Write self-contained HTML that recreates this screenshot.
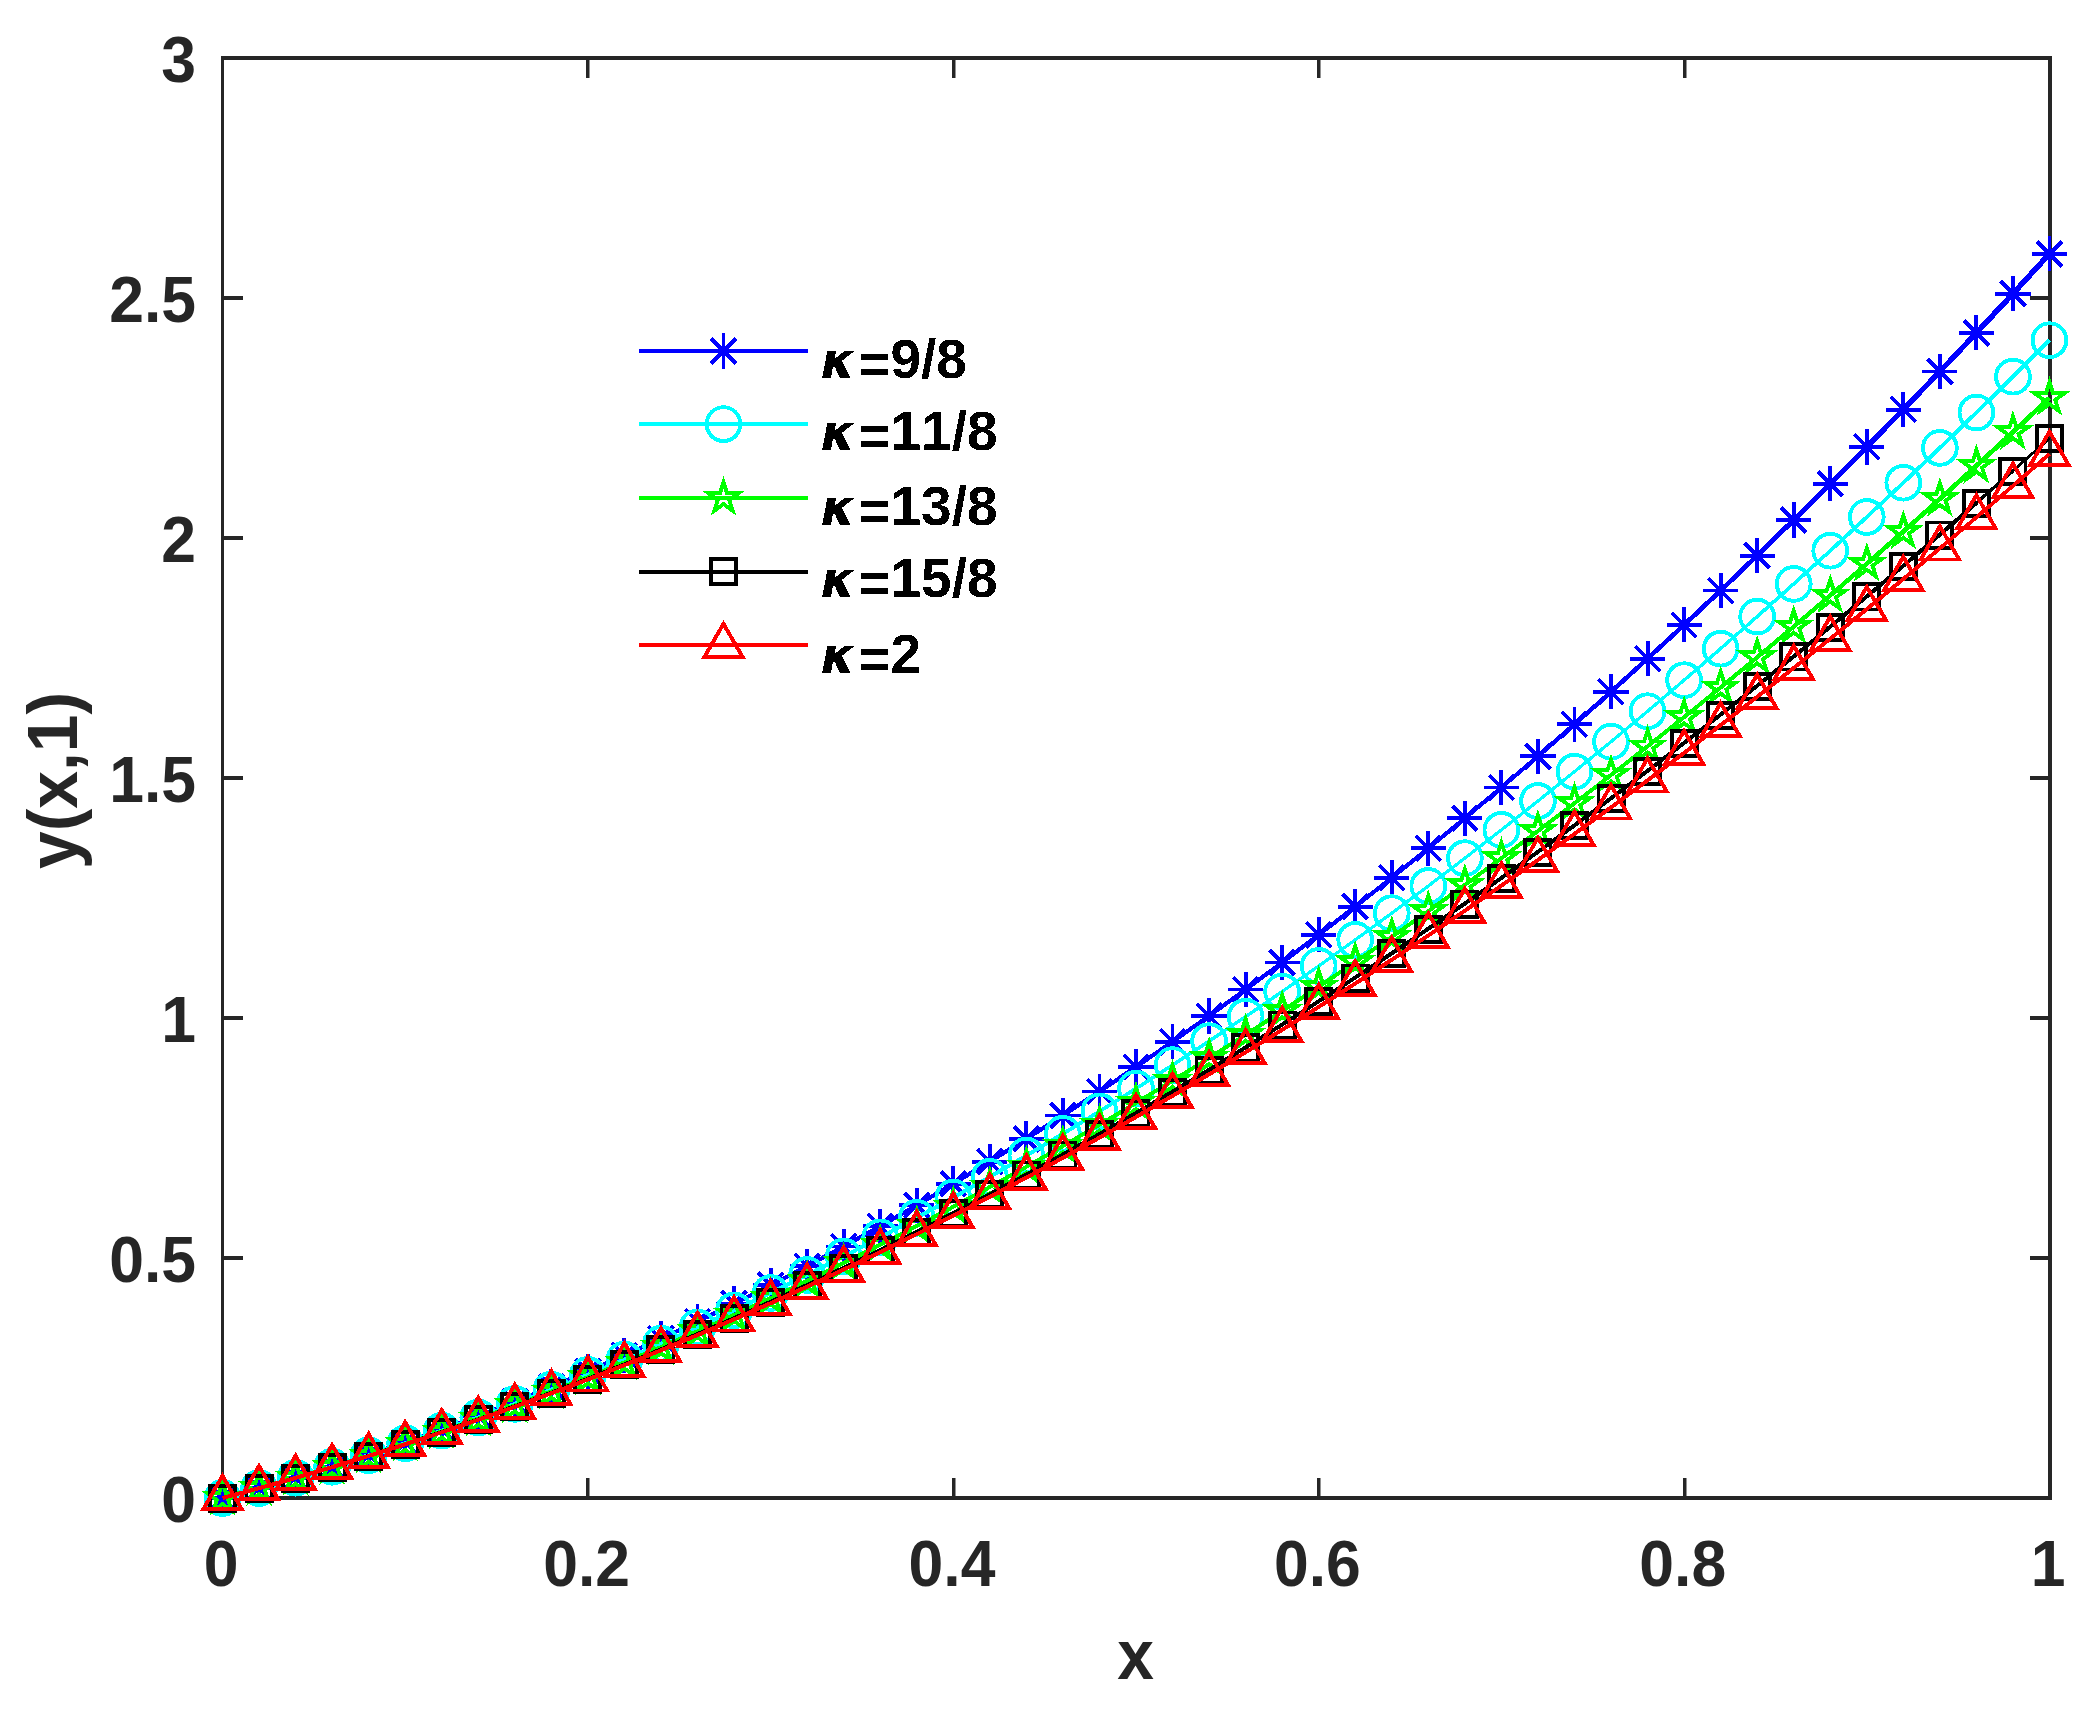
<!DOCTYPE html>
<html lang="en"><head><meta charset="utf-8"><title>y(x,1) for different kappa</title>
<style>html,body{margin:0;padding:0;background:#fff}body{width:2095px;height:1717px;overflow:hidden}svg{display:block}text{font-kerning:none;font-family:"Liberation Sans",sans-serif;font-weight:bold}.tk{font-size:62.5px;fill:#262626}.lb{font-size:68.75px;fill:#262626}.lg{font-size:55.0px;fill:#000}.kp{font-family:"DejaVu Sans","Liberation Sans",sans-serif;font-style:italic;font-size:50px}</style></head><body>
<svg width="2095" height="1717" viewBox="0 0 2095 1717">
<rect width="2095" height="1717" fill="#fff"/>
<g fill="#262626">
<rect x="221" y="56" width="3" height="1444"/><rect x="2048" y="56" width="4" height="1444"/>
<rect x="221" y="56" width="1831" height="4"/><rect x="221" y="1496" width="1831" height="4"/>
<path d="M586 1478h3.5v18h-3.5zM586 60h3.5v18h-3.5zM952 1478h3.5v18h-3.5zM952 60h3.5v18h-3.5zM1317 1478h3.5v18h-3.5zM1317 60h3.5v18h-3.5zM1683 1478h3.5v18h-3.5zM1683 60h3.5v18h-3.5zM224 1256h19v4h-19zM2030 1256h18v4h-18zM224 1016h19v4h-19zM2030 1016h18v4h-18zM224 776h19v4h-19zM2030 776h18v4h-18zM224 536h19v4h-19zM2030 536h18v4h-18zM224 296h19v4h-19zM2030 296h18v4h-18z"/>
</g>
<g class="tk" text-anchor="middle">
<text transform="translate(221.2 1585.7) scale(1 1.045)">0</text>
<text transform="translate(586.6 1585.7) scale(1 1.045)">0.2</text>
<text transform="translate(952 1585.7) scale(1 1.045)">0.4</text>
<text transform="translate(1317.4 1585.7) scale(1 1.045)">0.6</text>
<text transform="translate(1682.8 1585.7) scale(1 1.045)">0.8</text>
<text transform="translate(2048.2 1585.7) scale(1 1.045)">1</text>
</g>
<g class="tk" text-anchor="end">
<text transform="translate(196 1521.5) scale(1 1.045)">0</text>
<text transform="translate(196 1281.5) scale(1 1.045)">0.5</text>
<text transform="translate(196 1041.5) scale(1 1.045)">1</text>
<text transform="translate(196 801.5) scale(1 1.045)">1.5</text>
<text transform="translate(196 561.5) scale(1 1.045)">2</text>
<text transform="translate(196 321.5) scale(1 1.045)">2.5</text>
<text transform="translate(196 81.5) scale(1 1.045)">3</text>
</g>
<text class="lb" text-anchor="middle" transform="translate(1135.5 1678.8) scale(0.96 1.022)">x</text>
<text class="lb" text-anchor="middle" transform="translate(77 780.5) rotate(-90) scale(0.985 1.03)">y(x,1)</text>
<g fill="none" shape-rendering="crispEdges" stroke-linejoin="miter" stroke-miterlimit="10">
<g stroke="#0000ff">
<polyline stroke-width="4.2" stroke-linejoin="round" points="222.5,1498 259.04,1488.09 295.58,1477.58 332.12,1466.45 368.66,1454.71 405.2,1442.36 441.74,1429.4 478.28,1415.82 514.82,1401.64 551.36,1386.84 587.9,1371.43 624.44,1355.41 660.98,1338.78 697.52,1321.54 734.06,1303.68 770.6,1285.22 807.14,1266.14 843.68,1246.46 880.22,1226.16 916.76,1205.25 953.3,1183.72 989.84,1161.59 1026.38,1138.85 1062.92,1115.49 1099.46,1091.52 1136,1066.94 1172.54,1041.75 1209.08,1015.95 1245.62,989.54 1282.16,962.51 1318.7,934.88 1355.24,906.63 1391.78,877.77 1428.32,848.3 1464.86,818.22 1501.4,787.53 1537.94,756.22"/>
<polyline stroke-width="4.4" stroke-linejoin="round" points="1537.94,756.22 1574.48,724.31 1611.02,691.78"/>
<polyline stroke-width="4.6" stroke-linejoin="round" points="1611.02,691.78 1647.56,658.64 1684.1,624.89"/>
<polyline stroke-width="4.8" stroke-linejoin="round" points="1684.1,624.89 1720.64,590.53 1757.18,555.56"/>
<polyline stroke-width="5" stroke-linejoin="round" points="1757.18,555.56 1793.72,519.98 1830.26,483.78"/>
<polyline stroke-width="5.2" stroke-linejoin="round" points="1830.26,483.78 1866.8,446.97 1903.34,409.56"/>
<polyline stroke-width="5.4" stroke-linejoin="round" points="1903.34,409.56 1939.88,371.53 1976.42,332.89"/>
<polyline stroke-width="5.6" stroke-linejoin="round" points="1976.42,332.89 2012.96,293.63 2049.5,253.77"/>
<g stroke-width="3.9">
<path d="M222.5 1480.4V1515.6M204.9 1498H240.1M210.05 1485.55L234.95 1510.45M210.05 1510.45L234.95 1485.55"/>
<path d="M259.04 1470.49V1505.69M241.44 1488.09H276.64M246.59 1475.65L271.49 1500.54M246.59 1500.54L271.49 1475.65"/>
<path d="M295.58 1459.98V1495.18M277.98 1477.58H313.18M283.13 1465.13L308.03 1490.02M283.13 1490.02L308.03 1465.13"/>
<path d="M332.12 1448.85V1484.05M314.52 1466.45H349.72M319.67 1454L344.57 1478.89M319.67 1478.89L344.57 1454"/>
<path d="M368.66 1437.11V1472.31M351.06 1454.71H386.26M356.21 1442.26L381.11 1467.15M356.21 1467.15L381.11 1442.26"/>
<path d="M405.2 1424.76V1459.96M387.6 1442.36H422.8M392.75 1429.91L417.65 1454.8M392.75 1454.8L417.65 1429.91"/>
<path d="M441.74 1411.8V1447M424.14 1429.4H459.34M429.29 1416.95L454.19 1441.84M429.29 1441.84L454.19 1416.95"/>
<path d="M478.28 1398.22V1433.42M460.68 1415.82H495.88M465.83 1403.38L490.73 1428.27M465.83 1428.27L490.73 1403.38"/>
<path d="M514.82 1384.04V1419.24M497.22 1401.64H532.42M502.37 1389.19L527.27 1414.08M502.37 1414.08L527.27 1389.19"/>
<path d="M551.36 1369.24V1404.44M533.76 1386.84H568.96M538.91 1374.39L563.81 1399.28M538.91 1399.28L563.81 1374.39"/>
<path d="M587.9 1353.83V1389.03M570.3 1371.43H605.5M575.45 1358.99L600.35 1383.88M575.45 1383.88L600.35 1358.99"/>
<path d="M624.44 1337.81V1373.01M606.84 1355.41H642.04M611.99 1342.97L636.89 1367.86M611.99 1367.86L636.89 1342.97"/>
<path d="M660.98 1321.18V1356.38M643.38 1338.78H678.58M648.53 1326.34L673.43 1351.23M648.53 1351.23L673.43 1326.34"/>
<path d="M697.52 1303.94V1339.14M679.92 1321.54H715.12M685.07 1309.09L709.97 1333.98M685.07 1333.98L709.97 1309.09"/>
<path d="M734.06 1286.08V1321.28M716.46 1303.68H751.66M721.61 1291.24L746.51 1316.13M721.61 1316.13L746.51 1291.24"/>
<path d="M770.6 1267.62V1302.82M753 1285.22H788.2M758.15 1272.77L783.05 1297.66M758.15 1297.66L783.05 1272.77"/>
<path d="M807.14 1248.54V1283.74M789.54 1266.14H824.74M794.69 1253.7L819.59 1278.59M794.69 1278.59L819.59 1253.7"/>
<path d="M843.68 1228.86V1264.06M826.08 1246.46H861.28M831.23 1234.01L856.13 1258.9M831.23 1258.9L856.13 1234.01"/>
<path d="M880.22 1208.56V1243.76M862.62 1226.16H897.82M867.77 1213.71L892.67 1238.6M867.77 1238.6L892.67 1213.71"/>
<path d="M916.76 1187.65V1222.85M899.16 1205.25H934.36M904.31 1192.8L929.21 1217.69M904.31 1217.69L929.21 1192.8"/>
<path d="M953.3 1166.12V1201.32M935.7 1183.72H970.9M940.85 1171.28L965.75 1196.17M940.85 1196.17L965.75 1171.28"/>
<path d="M989.84 1143.99V1179.19M972.24 1161.59H1007.44M977.39 1149.14L1002.29 1174.04M977.39 1174.04L1002.29 1149.14"/>
<path d="M1026.38 1121.25V1156.45M1008.78 1138.85H1043.98M1013.93 1126.4L1038.83 1151.29M1013.93 1151.29L1038.83 1126.4"/>
<path d="M1062.92 1097.89V1133.09M1045.32 1115.49H1080.52M1050.47 1103.04L1075.37 1127.93M1050.47 1127.93L1075.37 1103.04"/>
<path d="M1099.46 1073.92V1109.12M1081.86 1091.52H1117.06M1087.01 1079.08L1111.91 1103.97M1087.01 1103.97L1111.91 1079.08"/>
<path d="M1136 1049.34V1084.54M1118.4 1066.94H1153.6M1123.55 1054.5L1148.45 1079.39M1123.55 1079.39L1148.45 1054.5"/>
<path d="M1172.54 1024.15V1059.35M1154.94 1041.75H1190.14M1160.09 1029.31L1184.99 1054.2M1160.09 1054.2L1184.99 1029.31"/>
<path d="M1209.08 998.35V1033.55M1191.48 1015.95H1226.68M1196.63 1003.51L1221.53 1028.4M1196.63 1028.4L1221.53 1003.51"/>
<path d="M1245.62 971.94V1007.14M1228.02 989.54H1263.22M1233.17 977.09L1258.07 1001.98M1233.17 1001.98L1258.07 977.09"/>
<path d="M1282.16 944.91V980.11M1264.56 962.51H1299.76M1269.71 950.07L1294.61 974.96M1269.71 974.96L1294.61 950.07"/>
<path d="M1318.7 917.28V952.48M1301.1 934.88H1336.3M1306.25 922.43L1331.15 947.32M1306.25 947.32L1331.15 922.43"/>
<path d="M1355.24 889.03V924.23M1337.64 906.63H1372.84M1342.79 894.19L1367.69 919.08M1342.79 919.08L1367.69 894.19"/>
<path d="M1391.78 860.17V895.37M1374.18 877.77H1409.38M1379.33 865.33L1404.23 890.22M1379.33 890.22L1404.23 865.33"/>
<path d="M1428.32 830.7V865.9M1410.72 848.3H1445.92M1415.87 835.86L1440.77 860.75M1415.87 860.75L1440.77 835.86"/>
<path d="M1464.86 800.62V835.82M1447.26 818.22H1482.46M1452.41 805.78L1477.31 830.67M1452.41 830.67L1477.31 805.78"/>
<path d="M1501.4 769.93V805.13M1483.8 787.53H1519M1488.95 775.08L1513.85 799.97M1488.95 799.97L1513.85 775.08"/>
<path d="M1537.94 738.62V773.82M1520.34 756.22H1555.54M1525.49 743.78L1550.39 768.67M1525.49 768.67L1550.39 743.78"/>
<path d="M1574.48 706.71V741.91M1556.88 724.31H1592.08M1562.03 711.86L1586.93 736.75M1562.03 736.75L1586.93 711.86"/>
<path d="M1611.02 674.18V709.38M1593.42 691.78H1628.62M1598.57 679.34L1623.47 704.23M1598.57 704.23L1623.47 679.34"/>
<path d="M1647.56 641.04V676.24M1629.96 658.64H1665.16M1635.11 646.2L1660.01 671.09M1635.11 671.09L1660.01 646.2"/>
<path d="M1684.1 607.29V642.49M1666.5 624.89H1701.7M1671.65 612.45L1696.55 637.34M1671.65 637.34L1696.55 612.45"/>
<path d="M1720.64 572.93V608.13M1703.04 590.53H1738.24M1708.19 578.09L1733.09 602.98M1708.19 602.98L1733.09 578.09"/>
<path d="M1757.18 537.96V573.16M1739.58 555.56H1774.78M1744.73 543.11L1769.63 568M1744.73 568L1769.63 543.11"/>
<path d="M1793.72 502.38V537.58M1776.12 519.98H1811.32M1781.27 507.53L1806.17 532.42M1781.27 532.42L1806.17 507.53"/>
<path d="M1830.26 466.18V501.38M1812.66 483.78H1847.86M1817.81 471.34L1842.71 496.23M1817.81 496.23L1842.71 471.34"/>
<path d="M1866.8 429.37V464.57M1849.2 446.97H1884.4M1854.35 434.53L1879.25 459.42M1854.35 459.42L1879.25 434.53"/>
<path d="M1903.34 391.96V427.16M1885.74 409.56H1920.94M1890.89 397.11L1915.79 422M1890.89 422L1915.79 397.11"/>
<path d="M1939.88 353.93V389.13M1922.28 371.53H1957.48M1927.43 359.08L1952.33 383.97M1927.43 383.97L1952.33 359.08"/>
<path d="M1976.42 315.29V350.49M1958.82 332.89H1994.02M1963.97 320.44L1988.87 345.33M1963.97 345.33L1988.87 320.44"/>
<path d="M2012.96 276.03V311.23M1995.36 293.63H2030.56M2000.51 281.19L2025.41 306.08M2000.51 306.08L2025.41 281.19"/>
<path d="M2049.5 236.17V271.37M2031.9 253.77H2067.1M2037.05 241.33L2061.95 266.22M2037.05 266.22L2061.95 241.33"/>
</g></g>
<g stroke="#00ffff">
<polyline stroke-width="4" stroke-linejoin="round" points="222.5,1498 259.04,1488.13 295.58,1477.72 332.12,1466.76 368.66,1455.26 405.2,1443.22 441.74,1430.64 478.28,1417.52 514.82,1403.85 551.36,1389.64 587.9,1374.89 624.44,1359.59 660.98,1343.76 697.52,1327.38 734.06,1310.46 770.6,1293 807.14,1274.99 843.68,1256.45 880.22,1237.36 916.76,1217.73 953.3,1197.55 989.84,1176.84 1026.38,1155.58 1062.92,1133.78"/>
<polyline stroke-width="3.8" stroke-linejoin="round" points="1062.92,1133.78 1099.46,1111.44 1136,1088.55"/>
<polyline stroke-width="3.6" stroke-linejoin="round" points="1136,1088.55 1172.54,1065.12 1209.08,1041.16"/>
<polyline stroke-width="3.4" stroke-linejoin="round" points="1209.08,1041.16 1245.62,1016.64 1282.16,991.59"/>
<polyline stroke-width="3.2" stroke-linejoin="round" points="1282.16,991.59 1318.7,965.99 1355.24,939.86 1391.78,913.18 1428.32,885.95 1464.86,858.19 1501.4,829.88 1537.94,801.03 1574.48,771.64 1611.02,741.71 1647.56,711.23 1684.1,680.21"/>
<polyline stroke-width="3.4" stroke-linejoin="round" points="1684.1,680.21 1720.64,648.65 1757.18,616.55"/>
<polyline stroke-width="3.6" stroke-linejoin="round" points="1757.18,616.55 1793.72,583.9 1830.26,550.72"/>
<polyline stroke-width="3.8" stroke-linejoin="round" points="1830.26,550.72 1866.8,516.99 1903.34,482.72"/>
<polyline stroke-width="4" stroke-linejoin="round" points="1903.34,482.72 1939.88,447.9 1976.42,412.55 2012.96,376.65 2049.5,340.21"/>
<g stroke-width="3.9">
<circle cx="222.5" cy="1498" r="16.9"/>
<circle cx="259.04" cy="1488.13" r="16.9"/>
<circle cx="295.58" cy="1477.72" r="16.9"/>
<circle cx="332.12" cy="1466.76" r="16.9"/>
<circle cx="368.66" cy="1455.26" r="16.9"/>
<circle cx="405.2" cy="1443.22" r="16.9"/>
<circle cx="441.74" cy="1430.64" r="16.9"/>
<circle cx="478.28" cy="1417.52" r="16.9"/>
<circle cx="514.82" cy="1403.85" r="16.9"/>
<circle cx="551.36" cy="1389.64" r="16.9"/>
<circle cx="587.9" cy="1374.89" r="16.9"/>
<circle cx="624.44" cy="1359.59" r="16.9"/>
<circle cx="660.98" cy="1343.76" r="16.9"/>
<circle cx="697.52" cy="1327.38" r="16.9"/>
<circle cx="734.06" cy="1310.46" r="16.9"/>
<circle cx="770.6" cy="1293" r="16.9"/>
<circle cx="807.14" cy="1274.99" r="16.9"/>
<circle cx="843.68" cy="1256.45" r="16.9"/>
<circle cx="880.22" cy="1237.36" r="16.9"/>
<circle cx="916.76" cy="1217.73" r="16.9"/>
<circle cx="953.3" cy="1197.55" r="16.9"/>
<circle cx="989.84" cy="1176.84" r="16.9"/>
<circle cx="1026.38" cy="1155.58" r="16.9"/>
<circle cx="1062.92" cy="1133.78" r="16.9"/>
<circle cx="1099.46" cy="1111.44" r="16.9"/>
<circle cx="1136" cy="1088.55" r="16.9"/>
<circle cx="1172.54" cy="1065.12" r="16.9"/>
<circle cx="1209.08" cy="1041.16" r="16.9"/>
<circle cx="1245.62" cy="1016.64" r="16.9"/>
<circle cx="1282.16" cy="991.59" r="16.9"/>
<circle cx="1318.7" cy="965.99" r="16.9"/>
<circle cx="1355.24" cy="939.86" r="16.9"/>
<circle cx="1391.78" cy="913.18" r="16.9"/>
<circle cx="1428.32" cy="885.95" r="16.9"/>
<circle cx="1464.86" cy="858.19" r="16.9"/>
<circle cx="1501.4" cy="829.88" r="16.9"/>
<circle cx="1537.94" cy="801.03" r="16.9"/>
<circle cx="1574.48" cy="771.64" r="16.9"/>
<circle cx="1611.02" cy="741.71" r="16.9"/>
<circle cx="1647.56" cy="711.23" r="16.9"/>
<circle cx="1684.1" cy="680.21" r="16.9"/>
<circle cx="1720.64" cy="648.65" r="16.9"/>
<circle cx="1757.18" cy="616.55" r="16.9"/>
<circle cx="1793.72" cy="583.9" r="16.9"/>
<circle cx="1830.26" cy="550.72" r="16.9"/>
<circle cx="1866.8" cy="516.99" r="16.9"/>
<circle cx="1903.34" cy="482.72" r="16.9"/>
<circle cx="1939.88" cy="447.9" r="16.9"/>
<circle cx="1976.42" cy="412.55" r="16.9"/>
<circle cx="2012.96" cy="376.65" r="16.9"/>
<circle cx="2049.5" cy="340.21" r="16.9"/>
</g></g>
<g stroke="#00ff00">
<polyline stroke-width="4" stroke-linejoin="round" points="222.5,1498 259.04,1488.15 295.58,1477.81 332.12,1466.97 368.66,1455.63 405.2,1443.8 441.74,1431.47 478.28,1418.65 514.82,1405.33 551.36,1391.51 587.9,1377.2 624.44,1362.39 660.98,1347.09 697.52,1331.29 734.06,1314.99 770.6,1298.2 807.14,1280.91 843.68,1263.13 880.22,1244.85 916.76,1226.07 953.3,1206.8 989.84,1187.03 1026.38,1166.76 1062.92,1146 1099.46,1124.75 1136,1103 1172.54,1080.75 1209.08,1058 1245.62,1034.76 1282.16,1011.03 1318.7,986.79 1355.24,962.07 1391.78,936.84 1428.32,911.12 1464.86,884.9 1501.4,858.19 1537.94,830.98 1574.48,803.28 1611.02,775.08 1647.56,746.38 1684.1,717.19 1720.64,687.5"/>
<polyline stroke-width="4.2" stroke-linejoin="round" points="1720.64,687.5 1757.18,657.32 1793.72,626.64"/>
<polyline stroke-width="4.4" stroke-linejoin="round" points="1793.72,626.64 1830.26,595.46 1866.8,563.79"/>
<polyline stroke-width="4.6" stroke-linejoin="round" points="1866.8,563.79 1903.34,531.62 1939.88,498.95"/>
<polyline stroke-width="4.8" stroke-linejoin="round" points="1939.88,498.95 1976.42,465.79 2012.96,432.14 2049.5,397.98"/>
<g stroke-width="3.9">
<polygon points="222.5,1482.2 226.05,1493.12 237.53,1493.12 228.24,1499.87 231.79,1510.78 222.5,1504.04 213.21,1510.78 216.76,1499.87 207.47,1493.12 218.95,1493.12"/>
<polygon points="259.04,1472.35 262.59,1483.27 274.07,1483.27 264.78,1490.02 268.33,1500.93 259.04,1494.19 249.75,1500.93 253.3,1490.02 244.01,1483.27 255.49,1483.27"/>
<polygon points="295.58,1462.01 299.13,1472.93 310.61,1472.93 301.32,1479.67 304.87,1490.59 295.58,1483.84 286.29,1490.59 289.84,1479.67 280.55,1472.93 292.03,1472.93"/>
<polygon points="332.12,1451.17 335.67,1462.09 347.15,1462.09 337.86,1468.83 341.41,1479.75 332.12,1473 322.83,1479.75 326.38,1468.83 317.09,1462.09 328.57,1462.09"/>
<polygon points="368.66,1439.83 372.21,1450.75 383.69,1450.75 374.4,1457.5 377.95,1468.41 368.66,1461.67 359.37,1468.41 362.92,1457.5 353.63,1450.75 365.11,1450.75"/>
<polygon points="405.2,1428 408.75,1438.92 420.23,1438.92 410.94,1445.66 414.49,1456.58 405.2,1449.84 395.91,1456.58 399.46,1445.66 390.17,1438.92 401.65,1438.92"/>
<polygon points="441.74,1415.67 445.29,1426.59 456.77,1426.59 447.48,1433.34 451.03,1444.25 441.74,1437.51 432.45,1444.25 436,1433.34 426.71,1426.59 438.19,1426.59"/>
<polygon points="478.28,1402.85 481.83,1413.76 493.31,1413.77 484.02,1420.51 487.57,1431.43 478.28,1424.68 468.99,1431.43 472.54,1420.51 463.25,1413.77 474.73,1413.76"/>
<polygon points="514.82,1389.53 518.37,1400.44 529.85,1400.45 520.56,1407.19 524.11,1418.11 514.82,1411.36 505.53,1418.11 509.08,1407.19 499.79,1400.45 511.27,1400.44"/>
<polygon points="551.36,1375.71 554.91,1386.63 566.39,1386.63 557.1,1393.38 560.65,1404.29 551.36,1397.55 542.07,1404.29 545.62,1393.38 536.33,1386.63 547.81,1386.63"/>
<polygon points="587.9,1361.4 591.45,1372.32 602.93,1372.32 593.64,1379.06 597.19,1389.98 587.9,1383.23 578.61,1389.98 582.16,1379.06 572.87,1372.32 584.35,1372.32"/>
<polygon points="624.44,1346.59 627.99,1357.51 639.47,1357.51 630.18,1364.26 633.73,1375.17 624.44,1368.43 615.15,1375.17 618.7,1364.26 609.41,1357.51 620.89,1357.51"/>
<polygon points="660.98,1331.29 664.53,1342.2 676.01,1342.2 666.72,1348.95 670.27,1359.87 660.98,1353.12 651.69,1359.87 655.24,1348.95 645.95,1342.2 657.43,1342.2"/>
<polygon points="697.52,1315.49 701.07,1326.4 712.55,1326.4 703.26,1333.15 706.81,1344.07 697.52,1337.32 688.23,1344.07 691.78,1333.15 682.49,1326.4 693.97,1326.4"/>
<polygon points="734.06,1299.19 737.61,1310.11 749.09,1310.11 739.8,1316.86 743.35,1327.77 734.06,1321.03 724.77,1327.77 728.32,1316.86 719.03,1310.11 730.51,1310.11"/>
<polygon points="770.6,1282.4 774.15,1293.32 785.63,1293.32 776.34,1300.06 779.89,1310.98 770.6,1304.23 761.31,1310.98 764.86,1300.06 755.57,1293.32 767.05,1293.32"/>
<polygon points="807.14,1265.11 810.69,1276.03 822.17,1276.03 812.88,1282.78 816.43,1293.69 807.14,1286.95 797.85,1293.69 801.4,1282.78 792.11,1276.03 803.59,1276.03"/>
<polygon points="843.68,1247.33 847.23,1258.24 858.71,1258.24 849.42,1264.99 852.97,1275.91 843.68,1269.16 834.39,1275.91 837.94,1264.99 828.65,1258.24 840.13,1258.24"/>
<polygon points="880.22,1229.05 883.77,1239.96 895.25,1239.96 885.96,1246.71 889.51,1257.63 880.22,1250.88 870.93,1257.63 874.48,1246.71 865.19,1239.96 876.67,1239.96"/>
<polygon points="916.76,1210.27 920.31,1221.19 931.79,1221.19 922.5,1227.93 926.05,1238.85 916.76,1232.11 907.47,1238.85 911.02,1227.93 901.73,1221.19 913.21,1221.19"/>
<polygon points="953.3,1191 956.85,1201.91 968.33,1201.91 959.04,1208.66 962.59,1219.58 953.3,1212.83 944.01,1219.58 947.56,1208.66 938.27,1201.91 949.75,1201.91"/>
<polygon points="989.84,1171.23 993.39,1182.15 1004.87,1182.15 995.58,1188.89 999.13,1199.81 989.84,1193.06 980.55,1199.81 984.1,1188.89 974.81,1182.15 986.29,1182.15"/>
<polygon points="1026.38,1150.96 1029.93,1161.88 1041.41,1161.88 1032.12,1168.63 1035.67,1179.55 1026.38,1172.8 1017.09,1179.55 1020.64,1168.63 1011.35,1161.88 1022.83,1161.88"/>
<polygon points="1062.92,1130.2 1066.47,1141.12 1077.95,1141.12 1068.66,1147.87 1072.21,1158.79 1062.92,1152.04 1053.63,1158.79 1057.18,1147.87 1047.89,1141.12 1059.37,1141.12"/>
<polygon points="1099.46,1108.95 1103.01,1119.87 1114.49,1119.87 1105.2,1126.61 1108.75,1137.53 1099.46,1130.78 1090.17,1137.53 1093.72,1126.61 1084.43,1119.87 1095.91,1119.87"/>
<polygon points="1136,1087.2 1139.55,1098.11 1151.03,1098.11 1141.74,1104.86 1145.29,1115.78 1136,1109.03 1126.71,1115.78 1130.26,1104.86 1120.97,1098.11 1132.45,1098.11"/>
<polygon points="1172.54,1064.95 1176.09,1075.86 1187.57,1075.86 1178.28,1082.61 1181.83,1093.53 1172.54,1086.78 1163.25,1093.53 1166.8,1082.61 1157.51,1075.86 1168.99,1075.86"/>
<polygon points="1209.08,1042.2 1212.63,1053.12 1224.11,1053.12 1214.82,1059.87 1218.37,1070.79 1209.08,1064.04 1199.79,1070.79 1203.34,1059.87 1194.05,1053.12 1205.53,1053.12"/>
<polygon points="1245.62,1018.96 1249.17,1029.88 1260.65,1029.88 1251.36,1036.63 1254.91,1047.55 1245.62,1040.8 1236.33,1047.55 1239.88,1036.63 1230.59,1029.88 1242.07,1029.88"/>
<polygon points="1282.16,995.23 1285.71,1006.14 1297.19,1006.14 1287.9,1012.89 1291.45,1023.81 1282.16,1017.06 1272.87,1023.81 1276.42,1012.89 1267.13,1006.14 1278.61,1006.14"/>
<polygon points="1318.7,970.99 1322.25,981.91 1333.73,981.91 1324.44,988.66 1327.99,999.58 1318.7,992.83 1309.41,999.58 1312.96,988.66 1303.67,981.91 1315.15,981.91"/>
<polygon points="1355.24,946.27 1358.79,957.18 1370.27,957.18 1360.98,963.93 1364.53,974.85 1355.24,968.1 1345.95,974.85 1349.5,963.93 1340.21,957.18 1351.69,957.18"/>
<polygon points="1391.78,921.04 1395.33,931.96 1406.81,931.96 1397.52,938.71 1401.07,949.62 1391.78,942.88 1382.49,949.62 1386.04,938.71 1376.75,931.96 1388.23,931.96"/>
<polygon points="1428.32,895.32 1431.87,906.24 1443.35,906.24 1434.06,912.99 1437.61,923.9 1428.32,917.16 1419.03,923.9 1422.58,912.99 1413.29,906.24 1424.77,906.24"/>
<polygon points="1464.86,869.1 1468.41,880.02 1479.89,880.02 1470.6,886.77 1474.15,897.69 1464.86,890.94 1455.57,897.69 1459.12,886.77 1449.83,880.02 1461.31,880.02"/>
<polygon points="1501.4,842.39 1504.95,853.31 1516.43,853.31 1507.14,860.06 1510.69,870.97 1501.4,864.23 1492.11,870.97 1495.66,860.06 1486.37,853.31 1497.85,853.31"/>
<polygon points="1537.94,815.18 1541.49,826.1 1552.97,826.1 1543.68,832.85 1547.23,843.77 1537.94,837.02 1528.65,843.77 1532.2,832.85 1522.91,826.1 1534.39,826.1"/>
<polygon points="1574.48,787.48 1578.03,798.4 1589.51,798.4 1580.22,805.14 1583.77,816.06 1574.48,809.31 1565.19,816.06 1568.74,805.14 1559.45,798.4 1570.93,798.4"/>
<polygon points="1611.02,759.28 1614.57,770.2 1626.05,770.2 1616.76,776.94 1620.31,787.86 1611.02,781.11 1601.73,787.86 1605.28,776.94 1595.99,770.2 1607.47,770.2"/>
<polygon points="1647.56,730.58 1651.11,741.5 1662.59,741.5 1653.3,748.25 1656.85,759.16 1647.56,752.42 1638.27,759.16 1641.82,748.25 1632.53,741.5 1644.01,741.5"/>
<polygon points="1684.1,701.39 1687.65,712.31 1699.13,712.31 1689.84,719.05 1693.39,729.97 1684.1,723.22 1674.81,729.97 1678.36,719.05 1669.07,712.31 1680.55,712.31"/>
<polygon points="1720.64,671.7 1724.19,682.62 1735.67,682.62 1726.38,689.37 1729.93,700.28 1720.64,693.54 1711.35,700.28 1714.9,689.37 1705.61,682.62 1717.09,682.62"/>
<polygon points="1757.18,641.52 1760.73,652.43 1772.21,652.43 1762.92,659.18 1766.47,670.1 1757.18,663.35 1747.89,670.1 1751.44,659.18 1742.15,652.43 1753.63,652.43"/>
<polygon points="1793.72,610.84 1797.27,621.75 1808.75,621.75 1799.46,628.5 1803.01,639.42 1793.72,632.67 1784.43,639.42 1787.98,628.5 1778.69,621.75 1790.17,621.75"/>
<polygon points="1830.26,579.66 1833.81,590.58 1845.29,590.58 1836,597.32 1839.55,608.24 1830.26,601.49 1820.97,608.24 1824.52,597.32 1815.23,590.58 1826.71,590.58"/>
<polygon points="1866.8,547.99 1870.35,558.9 1881.83,558.9 1872.54,565.65 1876.09,576.57 1866.8,569.82 1857.51,576.57 1861.06,565.65 1851.77,558.9 1863.25,558.9"/>
<polygon points="1903.34,515.82 1906.89,526.73 1918.37,526.74 1909.08,533.48 1912.63,544.4 1903.34,537.65 1894.05,544.4 1897.6,533.48 1888.31,526.74 1899.79,526.73"/>
<polygon points="1939.88,483.15 1943.43,494.07 1954.91,494.07 1945.62,500.82 1949.17,511.74 1939.88,504.99 1930.59,511.74 1934.14,500.82 1924.85,494.07 1936.33,494.07"/>
<polygon points="1976.42,449.99 1979.97,460.91 1991.45,460.91 1982.16,467.66 1985.71,478.57 1976.42,471.83 1967.13,478.57 1970.68,467.66 1961.39,460.91 1972.87,460.91"/>
<polygon points="2012.96,416.34 2016.51,427.25 2027.99,427.25 2018.7,434 2022.25,444.92 2012.96,438.17 2003.67,444.92 2007.22,434 1997.93,427.25 2009.41,427.25"/>
<polygon points="2049.5,382.18 2053.05,393.1 2064.53,393.1 2055.24,399.85 2058.79,410.77 2049.5,404.02 2040.21,410.77 2043.76,399.85 2034.47,393.1 2045.95,393.1"/>
</g></g>
<g stroke="#000000">
<polyline stroke-width="4" stroke-linejoin="round" points="222.5,1498 259.04,1488.17 295.58,1477.87 332.12,1467.11 368.66,1455.89 405.2,1444.2 441.74,1432.05 478.28,1419.44 514.82,1406.36 551.36,1392.82 587.9,1378.81 624.44,1364.34 660.98,1349.41 697.52,1334.01 734.06,1318.15 770.6,1301.83 807.14,1285.04 843.68,1267.79 880.22,1250.07 916.76,1231.89 953.3,1213.25 989.84,1194.14 1026.38,1174.57 1062.92,1154.54 1099.46,1134.04 1136,1113.08 1172.54,1091.65 1209.08,1069.76 1245.62,1047.41 1282.16,1024.59 1318.7,1001.31 1355.24,977.57 1391.78,953.36 1428.32,928.69 1464.86,903.55 1501.4,877.95 1537.94,851.89 1574.48,825.36 1611.02,798.37 1647.56,770.92 1684.1,743 1720.64,714.62 1757.18,685.77 1793.72,656.46 1830.26,626.69 1866.8,596.45 1903.34,565.75 1939.88,534.59 1976.42,502.96"/>
<polyline stroke-width="3.4" stroke-linejoin="round" points="1976.42,502.96 2012.96,470.87"/>
<polyline stroke-width="2.8" stroke-linejoin="round" points="2012.96,470.87 2049.5,438.31"/>
<g stroke-width="3.9">
<rect x="209.95" y="1485.95" width="25.1" height="25.1"/>
<rect x="246.49" y="1476.12" width="25.1" height="25.1"/>
<rect x="283.03" y="1465.82" width="25.1" height="25.1"/>
<rect x="319.57" y="1455.06" width="25.1" height="25.1"/>
<rect x="356.11" y="1443.84" width="25.1" height="25.1"/>
<rect x="392.65" y="1432.15" width="25.1" height="25.1"/>
<rect x="429.19" y="1420" width="25.1" height="25.1"/>
<rect x="465.73" y="1407.39" width="25.1" height="25.1"/>
<rect x="502.27" y="1394.31" width="25.1" height="25.1"/>
<rect x="538.81" y="1380.77" width="25.1" height="25.1"/>
<rect x="575.35" y="1366.76" width="25.1" height="25.1"/>
<rect x="611.89" y="1352.29" width="25.1" height="25.1"/>
<rect x="648.43" y="1337.36" width="25.1" height="25.1"/>
<rect x="684.97" y="1321.96" width="25.1" height="25.1"/>
<rect x="721.51" y="1306.1" width="25.1" height="25.1"/>
<rect x="758.05" y="1289.78" width="25.1" height="25.1"/>
<rect x="794.59" y="1272.99" width="25.1" height="25.1"/>
<rect x="831.13" y="1255.74" width="25.1" height="25.1"/>
<rect x="867.67" y="1238.02" width="25.1" height="25.1"/>
<rect x="904.21" y="1219.84" width="25.1" height="25.1"/>
<rect x="940.75" y="1201.2" width="25.1" height="25.1"/>
<rect x="977.29" y="1182.09" width="25.1" height="25.1"/>
<rect x="1013.83" y="1162.52" width="25.1" height="25.1"/>
<rect x="1050.37" y="1142.49" width="25.1" height="25.1"/>
<rect x="1086.91" y="1121.99" width="25.1" height="25.1"/>
<rect x="1123.45" y="1101.03" width="25.1" height="25.1"/>
<rect x="1159.99" y="1079.6" width="25.1" height="25.1"/>
<rect x="1196.53" y="1057.71" width="25.1" height="25.1"/>
<rect x="1233.07" y="1035.36" width="25.1" height="25.1"/>
<rect x="1269.61" y="1012.54" width="25.1" height="25.1"/>
<rect x="1306.15" y="989.26" width="25.1" height="25.1"/>
<rect x="1342.69" y="965.52" width="25.1" height="25.1"/>
<rect x="1379.23" y="941.31" width="25.1" height="25.1"/>
<rect x="1415.77" y="916.64" width="25.1" height="25.1"/>
<rect x="1452.31" y="891.5" width="25.1" height="25.1"/>
<rect x="1488.85" y="865.9" width="25.1" height="25.1"/>
<rect x="1525.39" y="839.84" width="25.1" height="25.1"/>
<rect x="1561.93" y="813.31" width="25.1" height="25.1"/>
<rect x="1598.47" y="786.32" width="25.1" height="25.1"/>
<rect x="1635.01" y="758.87" width="25.1" height="25.1"/>
<rect x="1671.55" y="730.95" width="25.1" height="25.1"/>
<rect x="1708.09" y="702.57" width="25.1" height="25.1"/>
<rect x="1744.63" y="673.72" width="25.1" height="25.1"/>
<rect x="1781.17" y="644.41" width="25.1" height="25.1"/>
<rect x="1817.71" y="614.64" width="25.1" height="25.1"/>
<rect x="1854.25" y="584.4" width="25.1" height="25.1"/>
<rect x="1890.79" y="553.7" width="25.1" height="25.1"/>
<rect x="1927.33" y="522.54" width="25.1" height="25.1"/>
<rect x="1963.87" y="490.91" width="25.1" height="25.1"/>
<rect x="2000.41" y="458.82" width="25.1" height="25.1"/>
<rect x="2036.95" y="426.26" width="25.1" height="25.1"/>
</g></g>
<g stroke="#ff0000">
<polyline stroke-width="4" stroke-linejoin="round" points="222.5,1498 259.04,1488.17 295.58,1477.9 332.12,1467.17 368.66,1455.99 405.2,1444.36 441.74,1432.28 478.28,1419.74 514.82,1406.76 551.36,1393.32 587.9,1379.44 624.44,1365.1 660.98,1350.31 697.52,1335.07 734.06,1319.37 770.6,1303.23 807.14,1286.64 843.68,1269.59 880.22,1252.09 916.76,1234.14 953.3,1215.74 989.84,1196.89 1026.38,1177.59 1062.92,1157.84 1099.46,1137.63 1136,1116.98 1172.54,1095.87 1209.08,1074.31 1245.62,1052.3 1282.16,1029.84 1318.7,1006.93 1355.24,983.56 1391.78,959.75 1428.32,935.48 1464.86,910.76 1501.4,885.59 1537.94,859.97 1574.48,833.9 1611.02,807.38 1647.56,780.4 1684.1,752.98 1720.64,725.1 1757.18,696.77 1793.72,667.99 1830.26,638.76 1866.8,609.08 1903.34,578.95 1939.88,548.36"/>
<polyline stroke-width="3.8" stroke-linejoin="round" points="1939.88,548.36 1976.42,517.33 2012.96,485.84 2049.5,453.9"/>
<g stroke-width="3.9">
<polygon points="222.5,1475.83 241.7,1509.09 203.3,1509.09"/>
<polygon points="259.04,1466 278.24,1499.26 239.84,1499.26"/>
<polygon points="295.58,1455.73 314.78,1488.98 276.38,1488.98"/>
<polygon points="332.12,1445 351.32,1478.25 312.92,1478.25"/>
<polygon points="368.66,1433.82 387.86,1467.07 349.46,1467.07"/>
<polygon points="405.2,1422.19 424.4,1455.44 386,1455.44"/>
<polygon points="441.74,1410.11 460.94,1443.36 422.54,1443.36"/>
<polygon points="478.28,1397.57 497.48,1430.83 459.08,1430.83"/>
<polygon points="514.82,1384.59 534.02,1417.84 495.62,1417.84"/>
<polygon points="551.36,1371.15 570.56,1404.41 532.16,1404.41"/>
<polygon points="587.9,1357.27 607.1,1390.52 568.7,1390.52"/>
<polygon points="624.44,1342.93 643.64,1376.18 605.24,1376.18"/>
<polygon points="660.98,1328.14 680.18,1361.39 641.78,1361.39"/>
<polygon points="697.52,1312.9 716.72,1346.15 678.32,1346.15"/>
<polygon points="734.06,1297.2 753.26,1330.46 714.86,1330.46"/>
<polygon points="770.6,1281.06 789.8,1314.32 751.4,1314.32"/>
<polygon points="807.14,1264.47 826.34,1297.72 787.94,1297.72"/>
<polygon points="843.68,1247.42 862.88,1280.68 824.48,1280.68"/>
<polygon points="880.22,1229.92 899.42,1263.18 861.02,1263.18"/>
<polygon points="916.76,1211.97 935.96,1245.23 897.56,1245.23"/>
<polygon points="953.3,1193.57 972.5,1226.83 934.1,1226.83"/>
<polygon points="989.84,1174.72 1009.04,1207.98 970.64,1207.98"/>
<polygon points="1026.38,1155.42 1045.58,1188.68 1007.18,1188.68"/>
<polygon points="1062.92,1135.67 1082.12,1168.92 1043.72,1168.92"/>
<polygon points="1099.46,1115.46 1118.66,1148.72 1080.26,1148.72"/>
<polygon points="1136,1094.81 1155.2,1128.06 1116.8,1128.06"/>
<polygon points="1172.54,1073.7 1191.74,1106.95 1153.34,1106.95"/>
<polygon points="1209.08,1052.14 1228.28,1085.39 1189.88,1085.39"/>
<polygon points="1245.62,1030.13 1264.82,1063.38 1226.42,1063.38"/>
<polygon points="1282.16,1007.67 1301.36,1040.92 1262.96,1040.92"/>
<polygon points="1318.7,984.75 1337.9,1018.01 1299.5,1018.01"/>
<polygon points="1355.24,961.39 1374.44,994.65 1336.04,994.65"/>
<polygon points="1391.78,937.58 1410.98,970.83 1372.58,970.83"/>
<polygon points="1428.32,913.31 1447.52,946.56 1409.12,946.56"/>
<polygon points="1464.86,888.59 1484.06,921.85 1445.66,921.85"/>
<polygon points="1501.4,863.42 1520.6,896.68 1482.2,896.68"/>
<polygon points="1537.94,837.8 1557.14,871.06 1518.74,871.06"/>
<polygon points="1574.48,811.73 1593.68,844.99 1555.28,844.99"/>
<polygon points="1611.02,785.21 1630.22,818.46 1591.82,818.46"/>
<polygon points="1647.56,758.23 1666.76,791.49 1628.36,791.49"/>
<polygon points="1684.1,730.81 1703.3,764.06 1664.9,764.06"/>
<polygon points="1720.64,702.93 1739.84,736.19 1701.44,736.19"/>
<polygon points="1757.18,674.6 1776.38,707.86 1737.98,707.86"/>
<polygon points="1793.72,645.82 1812.92,679.08 1774.52,679.08"/>
<polygon points="1830.26,616.59 1849.46,649.85 1811.06,649.85"/>
<polygon points="1866.8,586.91 1886,620.17 1847.6,620.17"/>
<polygon points="1903.34,556.78 1922.54,590.03 1884.14,590.03"/>
<polygon points="1939.88,526.19 1959.08,559.45 1920.68,559.45"/>
<polygon points="1976.42,495.16 1995.62,528.41 1957.22,528.41"/>
<polygon points="2012.96,463.67 2032.16,496.93 1993.76,496.93"/>
<polygon points="2049.5,431.73 2068.7,464.99 2030.3,464.99"/>
</g></g>
</g>
<g fill="none" shape-rendering="crispEdges" stroke-width="3.9" stroke-miterlimit="10">
<g stroke="#0000ff"><path d="M639 350.9H808"/><path d="M723.5 333.3V368.5M705.9 350.9H741.1M711.05 338.45L735.95 363.35M711.05 363.35L735.95 338.45"/></g>
<g stroke="#00ffff"><path d="M639 424.1H808"/><circle cx="723.5" cy="424.1" r="16.9"/></g>
<g stroke="#00ff00"><path d="M639 498H808"/><polygon points="723.5,482.2 727.05,493.12 738.53,493.12 729.24,499.87 732.79,510.78 723.5,504.04 714.21,510.78 717.76,499.87 708.47,493.12 719.95,493.12"/></g>
<g stroke="#000000"><path d="M639 571.9H808"/><rect x="710.95" y="559.35" width="25.1" height="25.1"/></g>
<g stroke="#ff0000"><path d="M639 645.2H808"/><polygon points="723.5,623.83 742.7,657.09 704.3,657.09"/></g>
</g>
<defs><filter id="na" x="0" y="0" width="100%" height="100%" filterUnits="userSpaceOnUse" color-interpolation-filters="sRGB"><feComponentTransfer><feFuncA type="discrete" tableValues="0 1"/></feComponentTransfer></filter></defs>
<g class="lg" filter="url(#na)">
<text x="820.5" y="378"><tspan class="kp">κ</tspan><tspan dx="2.3" dy="5">=</tspan><tspan dy="-5">9/8</tspan></text>
<text x="820.5" y="450.2"><tspan class="kp">κ</tspan><tspan dx="2.3" dy="5">=</tspan><tspan dy="-5">11/8</tspan></text>
<text x="820.5" y="525"><tspan class="kp">κ</tspan><tspan dx="2.3" dy="5">=</tspan><tspan dy="-5">13/8</tspan></text>
<text x="820.5" y="597.2"><tspan class="kp">κ</tspan><tspan dx="2.3" dy="5">=</tspan><tspan dy="-5">15/8</tspan></text>
<text x="820.5" y="672.6"><tspan class="kp">κ</tspan><tspan dx="2.3" dy="5">=</tspan><tspan dy="-5">2</tspan></text>
</g>
</svg></body></html>
